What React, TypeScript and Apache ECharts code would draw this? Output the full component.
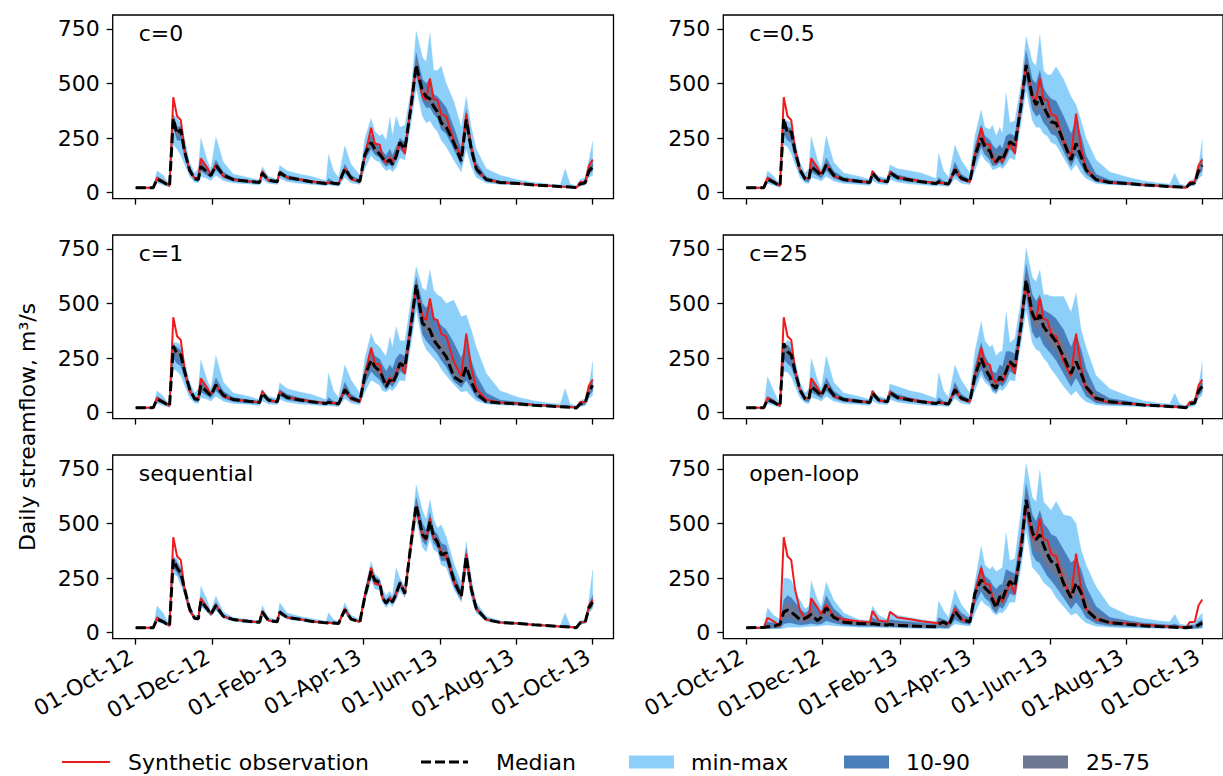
import React, { useEffect, useRef } from "react";
import * as echarts from "echarts";

// ---------- data ----------
// day offsets from 01-Oct-2012
const days = [
  0, 14, 17, 22, 27, 30, 33, 36, 39, 43,
  47, 50, 52, 57, 60, 64, 70, 78, 90, 99,
  101, 106, 113, 115, 121, 131, 140, 152, 154, 158,
  162, 167, 172, 179, 183, 188, 191, 195, 197, 200,
  203, 205, 208, 211, 215, 220, 224, 229, 232, 235,
  238, 241, 244, 248, 254, 260, 264, 268, 272, 280,
  291, 306, 318, 330, 339, 343, 347, 352, 355, 359,
  362, 365,
];
const tickDays = [0, 61, 123, 182, 243, 304, 365];
const tickLabels = ["01-Oct-12", "01-Dec-12", "01-Feb-13", "01-Apr-13", "01-Jun-13", "01-Aug-13", "01-Oct-13"];
const yTicks = [0, 250, 500, 750];
const panelTitles = ["c=0", "c=0.5", "c=1", "c=25", "sequential", "open-loop"];
const legendNames = ["Synthetic observation", "Median", "min-max", "10-90", "25-75"];

const obs = [
  23, 23, 68, 52, 31, 437, 350, 333, 200, 100,
  68, 66, 157, 115, 85, 128, 75, 60, 52, 48,
  99, 56, 50, 96, 70, 62, 52, 45, 46, 44,
  42, 110, 62, 50, 170, 298, 225, 220, 160, 137,
  160, 140, 180, 228, 178, 420, 580, 440, 425, 524,
  428, 425, 360, 350, 235, 167, 362, 205, 110, 60,
  47, 42, 36, 32, 28, 27, 26, 23, 49, 50,
  125, 152,
];

// c=0
const c0Med = [
  23, 23, 62, 48, 31, 340, 270, 290, 190, 105,
  64, 60, 120, 95, 78, 125, 80, 60, 52, 47,
  90, 58, 50, 92, 70, 60, 50, 42, 48, 43,
  40, 110, 68, 52, 175, 230, 200, 175, 160, 140,
  150, 130, 165, 230, 200, 400, 585, 465, 440, 430,
  395, 370, 320, 300, 230, 145, 335, 200, 110, 60,
  47, 42, 35, 32, 28, 27, 26, 23, 40, 45,
  100, 118,
];
const c0Max = [
  26, 26, 100, 80, 35, 360, 340, 320, 250, 140,
  90, 110, 250, 150, 110, 255, 140, 85, 70, 58,
  120, 75, 62, 125, 100, 85, 75, 55, 175, 100,
  70, 215, 130, 80, 250, 340, 280, 260, 270, 240,
  345, 260, 350, 300, 310, 470, 740, 620, 600, 730,
  560, 560, 580, 500, 420, 300, 440, 300, 200, 110,
  80, 58, 48, 40, 35, 110, 40, 32, 60, 70,
  150, 235,
];
const c0Min = [
  20, 20, 45, 35, 25, 220, 200, 170, 130, 75,
  48, 45, 75, 65, 55, 80, 55, 45, 40, 35,
  60, 42, 38, 65, 50, 42, 38, 32, 35, 32,
  30, 70, 45, 38, 110, 170, 150, 140, 120, 100,
  110, 95, 115, 160, 150, 320, 480, 350, 320, 330,
  300, 280, 240, 210, 150, 95, 200, 120, 70, 45,
  38, 35, 30, 27, 24, 23, 22, 20, 30, 35,
  70, 80,
];
const c0P90 = [
  24, 24, 75, 58, 33, 355, 300, 305, 210, 115,
  72, 68, 150, 110, 88, 150, 95, 68, 58, 52,
  100, 64, 55, 102, 80, 66, 56, 46, 65, 50,
  45, 130, 80, 58, 200, 270, 230, 210, 190, 170,
  200, 170, 210, 250, 230, 430, 640, 520, 500, 520,
  450, 440, 420, 390, 300, 200, 380, 240, 140, 72,
  54, 46, 38, 34, 30, 30, 28, 25, 46, 52,
  120, 150,
];
const c0P10 = [
  22, 22, 55, 42, 28, 300, 240, 240, 165, 90,
  56, 52, 100, 80, 68, 105, 68, 52, 46, 42,
  78, 50, 45, 80, 60, 52, 45, 38, 40, 38,
  36, 90, 58, 45, 150, 200, 175, 160, 140, 120,
  130, 115, 145, 200, 175, 370, 540, 420, 390, 390,
  360, 340, 290, 270, 200, 125, 290, 170, 90, 52,
  42, 38, 33, 30, 26, 25, 24, 21, 35, 40,
  85, 100,
];
const c0P75 = [
  23, 23, 68, 52, 32, 350, 285, 298, 200, 110,
  68, 64, 135, 100, 82, 135, 85, 64, 55, 50,
  95, 60, 52, 96, 74, 63, 53, 44, 55, 46,
  42, 118, 72, 54, 185, 250, 215, 190, 175, 155,
  175, 150, 185, 240, 215, 415, 610, 490, 470, 470,
  420, 400, 370, 340, 260, 170, 355, 220, 125, 66,
  50, 44, 36, 33, 29, 28, 27, 24, 43, 48,
  110, 132,
];
const c0P25 = [
  22, 22, 58, 45, 30, 320, 255, 265, 178, 98,
  60, 56, 110, 88, 72, 115, 73, 56, 49, 45,
  84, 54, 48, 86, 65, 56, 47, 40, 44, 40,
  38, 100, 63, 48, 162, 215, 188, 168, 150, 130,
  140, 122, 155, 215, 188, 385, 565, 445, 415, 410,
  375, 355, 305, 285, 215, 135, 315, 185, 100, 56,
  44, 40, 34, 31, 27, 26, 25, 22, 37, 42,
  92, 110,
];

// c=0.5
const c05Med = [
  23, 23, 62, 48, 31, 340, 272, 280, 190, 105,
  64, 60, 119, 95, 78, 127, 80, 60, 52, 47,
  90, 58, 50, 92, 70, 58, 50, 42, 50, 43,
  40, 105, 68, 50, 170, 249, 211, 190, 160, 142,
  165, 150, 190, 234, 218, 400, 585, 440, 402, 440,
  394, 360, 325, 318, 234, 150, 226, 165, 104, 60,
  47, 42, 35, 32, 28, 27, 26, 23, 40, 45,
  100, 125,
];
const c05Max = [
  26, 26, 100, 75, 35, 330, 330, 320, 240, 140,
  90, 110, 257, 150, 110, 260, 140, 90, 75, 60,
  104, 75, 65, 127, 110, 100, 90, 65, 180, 100,
  70, 218, 150, 90, 260, 379, 300, 290, 310, 260,
  300, 270, 455, 320, 330, 500, 715, 600, 580, 722,
  560, 540, 540, 577, 520, 440, 402, 330, 250, 150,
  95, 70, 55, 45, 40, 89, 40, 33, 55, 65,
  120, 241,
];
const c05Min = [
  20, 20, 42, 33, 24, 220, 210, 180, 130, 70,
  45, 42, 70, 62, 52, 75, 52, 42, 38, 33,
  55, 40, 36, 60, 48, 40, 36, 30, 33, 30,
  28, 65, 43, 36, 100, 180, 150, 130, 105, 110,
  120, 110, 130, 160, 150, 320, 470, 330, 300, 300,
  270, 260, 230, 220, 160, 100, 130, 90, 65, 42,
  36, 33, 28, 26, 23, 22, 21, 19, 28, 32,
  65, 80,
];
const c05P90 = [
  24, 24, 75, 58, 33, 330, 300, 295, 210, 118,
  74, 70, 160, 112, 90, 160, 98, 70, 60, 53,
  102, 66, 56, 104, 82, 68, 58, 47, 70, 52,
  46, 140, 85, 60, 210, 310, 260, 240, 220, 200,
  220, 200, 260, 270, 260, 450, 650, 520, 500, 560,
  480, 450, 430, 420, 350, 270, 330, 260, 170, 85,
  58, 48, 40, 35, 31, 35, 29, 26, 45, 52,
  115, 160,
];
const c05P10 = [
  22, 22, 52, 40, 28, 270, 240, 230, 160, 88,
  54, 50, 95, 78, 66, 100, 66, 50, 45, 40,
  75, 49, 44, 78, 58, 50, 44, 37, 40, 37,
  35, 85, 56, 44, 130, 210, 175, 150, 125, 125,
  140, 125, 160, 200, 180, 360, 520, 380, 350, 360,
  320, 300, 270, 260, 190, 120, 170, 125, 85, 50,
  40, 37, 32, 29, 26, 25, 24, 21, 34, 39,
  82, 100,
];
const c05P75 = [
  23, 23, 68, 52, 32, 345, 285, 290, 200, 110,
  68, 64, 135, 102, 83, 140, 86, 64, 55, 50,
  95, 61, 52, 96, 74, 62, 53, 44, 55, 46,
  42, 118, 74, 54, 185, 275, 235, 210, 175, 170,
  185, 170, 215, 250, 240, 420, 610, 480, 450, 480,
  430, 400, 365, 355, 270, 190, 270, 200, 130, 70,
  50, 44, 36, 33, 29, 28, 27, 24, 42, 47,
  108, 140,
];
const c05P25 = [
  22, 22, 57, 45, 30, 315, 258, 265, 178, 98,
  60, 56, 108, 88, 72, 115, 73, 56, 49, 45,
  84, 54, 48, 86, 65, 55, 47, 40, 45, 40,
  38, 95, 62, 47, 155, 225, 190, 165, 135, 135,
  150, 135, 170, 215, 200, 380, 560, 410, 370, 400,
  360, 330, 290, 285, 205, 130, 195, 145, 95, 54,
  43, 40, 34, 31, 27, 26, 25, 22, 37, 42,
  90, 112,
];

// c=1
const c1Med = [
  23, 23, 62, 48, 31, 305, 270, 265, 190, 110,
  64, 60, 125, 95, 78, 127, 80, 60, 52, 47,
  90, 58, 50, 92, 70, 58, 50, 42, 48, 43,
  40, 105, 68, 52, 170, 241, 211, 190, 165, 119,
  150, 135, 170, 226, 211, 400, 585, 410, 394, 379,
  333, 310, 287, 257, 165, 142, 211, 142, 89, 50,
  45, 40, 34, 31, 27, 26, 25, 22, 40, 45,
  100, 125,
];
const c1Max = [
  26, 26, 100, 75, 35, 320, 320, 310, 240, 140,
  90, 110, 241, 150, 110, 260, 140, 90, 75, 60,
  107, 75, 65, 137, 110, 95, 85, 60, 180, 100,
  70, 218, 150, 90, 250, 363, 320, 300, 280, 260,
  348, 300, 394, 330, 330, 520, 669, 570, 560, 654,
  560, 540, 530, 500, 516, 440, 448, 380, 300, 180,
  100, 70, 55, 45, 40, 110, 40, 32, 55, 65,
  120, 235,
];
const c1Min = [
  20, 20, 42, 33, 24, 200, 190, 170, 125, 70,
  45, 42, 70, 62, 52, 75, 52, 42, 38, 33,
  55, 40, 36, 60, 48, 40, 36, 30, 33, 30,
  28, 65, 43, 36, 95, 150, 140, 125, 100, 95,
  110, 100, 120, 150, 145, 320, 470, 330, 290, 270,
  250, 230, 200, 170, 130, 95, 100, 75, 55, 40,
  35, 32, 28, 26, 23, 22, 21, 19, 28, 32,
  65, 80,
];
const c1P90 = [
  24, 24, 75, 58, 33, 310, 300, 285, 210, 120,
  74, 70, 160, 112, 90, 160, 98, 70, 60, 53,
  102, 66, 56, 106, 84, 68, 58, 47, 70, 52,
  46, 140, 85, 60, 200, 300, 260, 245, 220, 190,
  220, 200, 250, 270, 260, 460, 620, 500, 480, 500,
  440, 420, 400, 380, 320, 250, 320, 240, 170, 90,
  58, 48, 40, 35, 31, 35, 29, 26, 45, 52,
  115, 155,
];
const c1P10 = [
  22, 22, 52, 40, 28, 250, 225, 215, 160, 90,
  54, 50, 95, 78, 66, 100, 66, 50, 45, 40,
  75, 49, 44, 78, 58, 50, 44, 37, 40, 37,
  35, 85, 56, 44, 130, 190, 170, 150, 130, 105,
  130, 118, 145, 190, 175, 360, 520, 360, 330, 310,
  290, 270, 240, 210, 145, 115, 150, 110, 70, 45,
  40, 37, 31, 28, 25, 24, 23, 20, 33, 38,
  80, 98,
];
const c1P75 = [
  23, 23, 68, 52, 32, 315, 285, 280, 200, 115,
  68, 64, 140, 102, 83, 140, 86, 64, 55, 50,
  95, 61, 52, 96, 74, 62, 53, 44, 55, 46,
  42, 118, 74, 54, 185, 265, 230, 210, 185, 140,
  175, 160, 200, 240, 230, 425, 610, 460, 430, 420,
  375, 350, 330, 300, 220, 180, 250, 175, 115, 62,
  48, 42, 35, 32, 28, 27, 26, 23, 42, 47,
  108, 138,
];
const c1P25 = [
  22, 22, 57, 45, 30, 285, 255, 250, 178, 102,
  60, 56, 110, 88, 72, 115, 73, 56, 49, 45,
  84, 54, 48, 86, 65, 55, 47, 40, 45, 40,
  38, 95, 62, 47, 155, 215, 190, 170, 150, 112,
  140, 128, 155, 210, 190, 380, 560, 400, 365, 350,
  310, 290, 260, 235, 165, 130, 180, 130, 82, 48,
  42, 38, 33, 30, 26, 25, 24, 21, 36, 41,
  90, 112,
];

// c=25
const c25Med = [
  23, 23, 60, 48, 31, 318, 280, 265, 190, 105,
  64, 60, 119, 95, 78, 127, 80, 60, 52, 47,
  90, 58, 50, 92, 70, 58, 50, 42, 48, 43,
  40, 105, 68, 52, 170, 249, 203, 165, 127, 112,
  165, 150, 190, 234, 211, 400, 608, 455, 417, 448,
  394, 370, 356, 325, 257, 180, 234, 180, 119, 66,
  50, 42, 35, 32, 28, 27, 26, 23, 40, 45,
  100, 120,
];
const c25Max = [
  26, 26, 165, 100, 35, 300, 333, 320, 240, 140,
  90, 110, 249, 150, 110, 260, 140, 90, 75, 60,
  104, 75, 65, 131, 120, 100, 90, 65, 183, 100,
  70, 218, 150, 90, 280, 417, 330, 300, 310, 260,
  280, 280, 463, 320, 340, 520, 753, 620, 600, 654,
  540, 540, 532, 532, 532, 460, 547, 380, 300, 170,
  110, 75, 55, 45, 40, 89, 40, 33, 55, 65,
  120, 230,
];
const c25Min = [
  20, 20, 42, 33, 24, 190, 185, 165, 120, 68,
  45, 42, 70, 62, 52, 75, 52, 42, 38, 33,
  55, 40, 36, 60, 48, 40, 36, 30, 33, 30,
  28, 65, 43, 36, 100, 170, 140, 120, 95, 85,
  110, 100, 120, 150, 145, 320, 470, 320, 290, 280,
  250, 230, 200, 170, 120, 80, 100, 70, 50, 35,
  32, 30, 27, 25, 22, 21, 20, 18, 27, 31,
  65, 80,
];
const c25P90 = [
  24, 24, 75, 60, 33, 300, 310, 290, 210, 118,
  74, 70, 155, 112, 90, 160, 98, 70, 60, 53,
  102, 66, 56, 104, 84, 68, 58, 47, 70, 52,
  46, 140, 85, 60, 210, 320, 260, 220, 190, 180,
  220, 210, 280, 280, 270, 460, 680, 540, 510, 540,
  470, 460, 450, 430, 380, 300, 360, 290, 200, 100,
  65, 52, 40, 35, 31, 35, 29, 26, 45, 52,
  115, 150,
];
const c25P10 = [
  22, 22, 50, 40, 28, 245, 225, 210, 160, 88,
  54, 50, 95, 78, 66, 100, 66, 50, 45, 40,
  75, 49, 44, 78, 58, 50, 44, 37, 40, 37,
  35, 85, 56, 44, 130, 200, 160, 135, 105, 95,
  130, 120, 145, 190, 175, 360, 540, 370, 340, 350,
  310, 290, 270, 240, 180, 120, 160, 120, 75, 45,
  38, 35, 31, 28, 25, 24, 23, 20, 33, 38,
  80, 96,
];
const c25P75 = [
  23, 23, 66, 52, 32, 318, 295, 280, 200, 110,
  68, 64, 135, 102, 83, 140, 86, 64, 55, 50,
  95, 61, 52, 96, 74, 62, 53, 44, 55, 46,
  42, 118, 74, 54, 185, 280, 230, 190, 155, 140,
  185, 175, 220, 250, 235, 430, 640, 500, 465, 490,
  430, 410, 400, 375, 310, 230, 290, 225, 150, 80,
  55, 46, 37, 33, 29, 28, 27, 24, 42, 47,
  108, 135,
];
const c25P25 = [
  22, 22, 56, 45, 30, 290, 262, 250, 178, 98,
  60, 56, 108, 88, 72, 115, 73, 56, 49, 45,
  84, 54, 48, 86, 65, 55, 47, 40, 45, 40,
  38, 95, 62, 47, 155, 225, 180, 150, 118, 105,
  148, 135, 165, 215, 190, 380, 580, 415, 380, 400,
  355, 330, 310, 280, 215, 145, 200, 145, 95, 55,
  43, 38, 33, 30, 26, 25, 24, 21, 36, 41,
  90, 108,
];

// sequential
const seqMed = [
  23, 23, 62, 50, 31, 335, 297, 274, 200, 110,
  66, 64, 145, 110, 84, 125, 75, 60, 52, 48,
  95, 56, 50, 94, 70, 62, 52, 45, 46, 44,
  42, 105, 62, 50, 165, 281, 240, 230, 160, 135,
  160, 140, 178, 228, 180, 415, 586, 450, 430, 510,
  440, 415, 357, 365, 240, 165, 350, 200, 110, 60,
  47, 42, 36, 32, 28, 27, 26, 23, 45, 48,
  115, 140,
];
const seqMax = [
  26, 26, 122, 90, 35, 350, 340, 300, 220, 130,
  80, 80, 213, 150, 100, 167, 95, 70, 60, 55,
  125, 70, 58, 137, 90, 75, 65, 52, 91, 60,
  50, 137, 80, 60, 200, 327, 270, 250, 200, 170,
  190, 170, 297, 250, 210, 450, 677, 560, 520, 609,
  520, 480, 494, 440, 320, 230, 418, 250, 140, 75,
  55, 48, 40, 36, 32, 91, 32, 28, 55, 60,
  150, 289,
];
const seqMin = [
  21, 21, 50, 40, 27, 270, 260, 220, 170, 90,
  58, 56, 120, 95, 75, 100, 65, 52, 45, 42,
  80, 50, 45, 80, 62, 54, 46, 40, 40, 38,
  36, 90, 55, 44, 140, 240, 200, 195, 140, 115,
  135, 120, 150, 190, 160, 360, 520, 390, 370, 430,
  380, 370, 310, 300, 200, 140, 290, 160, 90, 52,
  42, 38, 33, 29, 25, 24, 23, 20, 38, 42,
  90, 110,
];
const seqP90 = [
  24, 24, 75, 58, 33, 345, 320, 290, 212, 120,
  72, 70, 165, 120, 90, 140, 82, 64, 56, 51,
  105, 60, 53, 105, 76, 66, 55, 47, 52, 47,
  44, 118, 68, 54, 180, 300, 255, 240, 175, 150,
  172, 155, 200, 240, 195, 430, 620, 500, 470, 550,
  470, 450, 410, 400, 275, 190, 385, 220, 125, 66,
  50, 45, 38, 34, 30, 34, 28, 25, 49, 53,
  130, 170,
];
const seqP10 = [
  22, 22, 56, 46, 29, 300, 275, 245, 185, 100,
  62, 60, 130, 100, 78, 110, 70, 56, 48, 45,
  85, 52, 47, 85, 65, 58, 49, 42, 43, 41,
  39, 95, 58, 47, 150, 255, 220, 210, 150, 125,
  148, 130, 165, 210, 170, 390, 555, 420, 400, 470,
  410, 390, 330, 330, 215, 150, 320, 180, 98, 56,
  44, 40, 34, 30, 26, 25, 24, 21, 40, 44,
  100, 120,
];
const seqP75 = [
  23, 23, 68, 54, 32, 340, 305, 282, 205, 115,
  68, 66, 152, 114, 86, 130, 78, 62, 54, 49,
  98, 58, 51, 98, 72, 64, 53, 46, 48, 45,
  43, 110, 64, 52, 172, 290, 247, 235, 165, 140,
  165, 145, 188, 234, 187, 422, 600, 470, 445, 525,
  452, 428, 375, 380, 255, 175, 362, 208, 115, 62,
  48, 43, 37, 33, 29, 28, 27, 24, 46, 50,
  120, 150,
];
const seqP25 = [
  22, 22, 58, 48, 30, 320, 288, 265, 195, 106,
  64, 62, 138, 105, 81, 118, 72, 58, 50, 46,
  90, 54, 48, 90, 68, 60, 51, 43, 45, 43,
  41, 100, 60, 49, 158, 268, 232, 220, 155, 130,
  155, 135, 170, 220, 175, 405, 570, 435, 415, 490,
  425, 405, 345, 350, 228, 158, 338, 190, 104, 58,
  46, 41, 35, 31, 27, 26, 25, 22, 43, 46,
  108, 130,
];

// open-loop
const olMed = [
  23, 24, 27, 28, 40, 95, 103, 95, 80, 60,
  65, 76, 84, 55, 70, 114, 70, 48, 42, 40,
  42, 38, 35, 38, 33, 31, 29, 27, 40, 50,
  33, 99, 62, 49, 180, 243, 205, 183, 150, 114,
  167, 152, 200, 236, 213, 380, 608, 460, 426, 449,
  400, 360, 327, 319, 225, 160, 228, 183, 106, 65,
  46, 38, 32, 28, 26, 25, 24, 23, 25, 27,
  35, 45,
];
const olMax = [
  25, 25, 114, 80, 60, 250, 250, 240, 190, 150,
  110, 120, 236, 150, 120, 231, 150, 90, 60, 55,
  122, 80, 60, 100, 80, 70, 60, 50, 145, 100,
  70, 198, 130, 80, 230, 396, 310, 290, 304, 280,
  290, 300, 456, 330, 340, 560, 776, 620, 600, 745,
  600, 580, 560, 601, 540, 532, 500, 380, 310, 210,
  120, 80, 65, 55, 50, 84, 40, 35, 45, 50,
  70, 90,
];
const olMin = [
  18, 18, 18, 18, 18, 20, 25, 25, 25, 25,
  27, 28, 30, 30, 32, 35, 32, 28, 25, 25,
  25, 24, 23, 23, 22, 20, 19, 18, 19, 18,
  18, 40, 35, 30, 90, 150, 130, 115, 95, 80,
  95, 90, 110, 140, 140, 300, 470, 300, 280, 260,
  230, 215, 200, 160, 120, 80, 90, 65, 45, 30,
  25, 22, 20, 20, 19, 19, 18, 17, 17, 17,
  18, 20,
];
const olP90 = [
  22, 22, 50, 45, 45, 150, 170, 160, 140, 110,
  90, 100, 160, 110, 95, 170, 110, 70, 50, 48,
  70, 55, 48, 60, 55, 50, 45, 40, 70, 60,
  50, 130, 90, 65, 210, 310, 260, 240, 220, 200,
  220, 220, 290, 280, 270, 460, 680, 540, 510, 560,
  500, 480, 450, 440, 380, 320, 340, 290, 210, 120,
  70, 55, 45, 40, 35, 40, 32, 28, 32, 35,
  50, 60,
];
const olP10 = [
  20, 20, 20, 20, 22, 40, 45, 45, 40, 35,
  38, 40, 42, 38, 40, 55, 45, 35, 30, 30,
  30, 28, 27, 28, 26, 24, 23, 22, 24, 22,
  22, 60, 45, 38, 130, 190, 160, 140, 110, 90,
  120, 110, 140, 180, 170, 340, 540, 360, 330, 320,
  290, 260, 240, 210, 160, 110, 140, 110, 70, 42,
  32, 28, 25, 23, 22, 21, 21, 20, 20, 20,
  22, 25,
];
const olP75 = [
  23, 23, 35, 32, 34, 125, 140, 130, 110, 85,
  80, 90, 120, 80, 85, 140, 90, 58, 48, 45,
  55, 46, 42, 48, 45, 40, 37, 34, 55, 55,
  42, 115, 78, 58, 195, 275, 230, 210, 185, 160,
  195, 180, 235, 260, 245, 430, 640, 500, 470, 500,
  450, 420, 390, 380, 300, 240, 280, 230, 160, 90,
  58, 48, 40, 35, 31, 32, 28, 26, 28, 30,
  42, 52,
];
const olP25 = [
  21, 21, 23, 23, 28, 65, 70, 68, 60, 48,
  50, 55, 60, 48, 52, 80, 55, 42, 36, 35,
  35, 32, 30, 32, 30, 28, 26, 25, 30, 28,
  26, 80, 52, 43, 160, 215, 180, 160, 130, 100,
  140, 130, 165, 210, 190, 360, 570, 400, 370, 370,
  330, 300, 280, 260, 190, 130, 180, 145, 90, 52,
  38, 33, 29, 27, 25, 24, 23, 22, 23, 24,
  30, 38,
];

// ---------- styling / layout ----------
const FONT = "DejaVu Sans";
const RED = "#ee1c1c";
const C_MINMAX = "#8ccff9";
const C_1090 = "#4a7fbb";
const C_2575 = "#6e7791";

const colLeft = [112.7, 723.3];
const colWidth = [500.8, 507.6];
const rowTop = [15, 235, 455];
const rowHeight = 183.6;
const X_MIN = -18.4;
const X_MAX = 381.6;
const Y_MIN = -27;
const Y_MAX = 814;

type Panel = {
  med: number[]; min: number[]; max: number[];
  p10: number[]; p90: number[]; p25: number[]; p75: number[];
};

const panels: Panel[] = [
  { med: c0Med, min: c0Min, max: c0Max, p10: c0P10, p90: c0P90, p25: c0P25, p75: c0P75 },
  { med: c05Med, min: c05Min, max: c05Max, p10: c05P10, p90: c05P90, p25: c05P25, p75: c05P75 },
  { med: c1Med, min: c1Min, max: c1Max, p10: c1P10, p90: c1P90, p25: c1P25, p75: c1P75 },
  { med: c25Med, min: c25Min, max: c25Max, p10: c25P10, p90: c25P90, p25: c25P25, p75: c25P75 },
  { med: seqMed, min: seqMin, max: seqMax, p10: seqP10, p90: seqP90, p25: seqP25, p75: seqP75 },
  { med: olMed, min: olMin, max: olMax, p10: olP10, p90: olP90, p25: olP25, p75: olP75 },
];

// band between lo and hi drawn as one polygon through the axis scales
function bandSeries(i: number, name: string, lo: number[], hi: number[], color: string) {
  return {
    type: "custom", name, xAxisIndex: i, yAxisIndex: i, silent: true,
    data: days.map((d, k) => [d, lo[k], hi[k]]),
    encode: { x: 0, y: [1, 2] },
    renderItem: (params: any, api: any) => {
      if (params.dataIndexInside !== 0) return null;
      const n = params.dataInsideLength;
      const upper: number[][] = [];
      const lower: number[][] = [];
      for (let j = 0; j < n; j++) {
        const x = api.value(0, j);
        upper.push(api.coord([x, api.value(2, j)]));
        lower.push(api.coord([x, api.value(1, j)]));
      }
      return {
        type: "polygon",
        shape: { points: upper.concat(lower.reverse()) },
        style: { fill: color, stroke: color, lineWidth: 0.3 },
      };
    },
  };
}

function buildOption() {
  const grids: any[] = [];
  const xAxes: any[] = [];
  const yAxes: any[] = [];
  const titles: any[] = [];
  const series: any[] = [];
  const tickLine = { color: "#000", width: 1.3 };

  panels.forEach((p, i) => {
    const row = Math.floor(i / 2);
    const col = i % 2;
    grids.push({
      left: colLeft[col], top: rowTop[row], width: colWidth[col], height: rowHeight,
      show: true, borderColor: "#000", borderWidth: 1.3, backgroundColor: "transparent",
    });
    xAxes.push({
      type: "value", gridIndex: i, min: X_MIN, max: X_MAX,
      axisLine: { show: false, onZero: false },
      splitLine: { show: false },
      axisTick: { show: true, length: 6, lineStyle: tickLine, customValues: tickDays },
      axisLabel: {
        show: row === 2, customValues: tickDays, rotate: 30, margin: 14,
        fontSize: 22, fontFamily: FONT, color: "#000", padding: [0, 5, 0, 0],
        formatter: (v: number) => {
          const k = tickDays.indexOf(Math.round(v));
          return k >= 0 ? tickLabels[k] : "";
        },
      },
    });
    yAxes.push({
      type: "value", gridIndex: i, min: Y_MIN, max: Y_MAX,
      axisLine: { show: false, onZero: false },
      splitLine: { show: false },
      axisTick: { show: true, length: 6, lineStyle: tickLine, customValues: yTicks },
      axisLabel: {
        customValues: yTicks, margin: 13, fontSize: 22, fontFamily: FONT, color: "#000",
      },
    });
    titles.push({
      text: panelTitles[i], left: colLeft[col] + 26, top: rowTop[row] + 7, padding: 0,
      textStyle: { fontSize: 22, fontWeight: "normal", color: "#000", fontFamily: FONT },
    });
    series.push(bandSeries(i, legendNames[2], p.min, p.max, C_MINMAX));
    series.push(bandSeries(i, legendNames[3], p.p10, p.p90, C_1090));
    series.push(bandSeries(i, legendNames[4], p.p25, p.p75, C_2575));
    series.push({
      type: "line", name: legendNames[0], xAxisIndex: i, yAxisIndex: i,
      data: days.map((d, k) => [d, obs[k]]), symbol: "none", silent: true,
      lineStyle: { color: RED, width: 2 },
    });
    series.push({
      type: "line", name: legendNames[1], xAxisIndex: i, yAxisIndex: i,
      data: days.map((d, k) => [d, p.med[k]]), symbol: "none", silent: true,
      lineStyle: { color: "#000", width: 3, type: [10, 4] },
    });
  });

  const legendY = 762;
  const txt = (x: number, text: string) => ({
    type: "text", x, y: legendY,
    style: { text, fontSize: 22, fontFamily: FONT, fill: "#000", align: "left", verticalAlign: "middle" },
  });
  const patch = (x: number, fill: string) => ({
    type: "rect", shape: { x, y: 755.5, width: 45, height: 13 }, style: { fill },
  });

  const graphic: any[] = [
    {
      type: "text", x: 27, y: 427, rotation: Math.PI / 2,
      style: {
        text: "Daily streamflow, m³/s", fontSize: 22, fontFamily: FONT, fill: "#000",
        align: "center", verticalAlign: "middle",
      },
    },
    { type: "line", shape: { x1: 62, y1: legendY, x2: 110, y2: legendY }, style: { stroke: RED, lineWidth: 2 } },
    txt(128, legendNames[0]),
    { type: "line", shape: { x1: 421, y1: legendY, x2: 468, y2: legendY }, style: { stroke: "#000", lineWidth: 3, lineDash: [10, 4] } },
    txt(496, legendNames[1]),
    patch(629, C_MINMAX),
    txt(691, legendNames[2]),
    patch(844, C_1090),
    txt(906, legendNames[3]),
    patch(1023, C_2575),
    txt(1086, legendNames[4]),
  ];

  return {
    animation: false,
    backgroundColor: "#fff",
    textStyle: { fontFamily: FONT },
    title: titles,
    grid: grids,
    xAxis: xAxes,
    yAxis: yAxes,
    series,
    graphic,
  };
}

export default function App() {
  const ref = useRef<HTMLDivElement>(null);
  useEffect(() => {
    const chart = echarts.init(ref.current as HTMLDivElement, undefined, { renderer: "svg" });
    chart.setOption(buildOption() as any);
    return () => chart.dispose();
  }, []);
  return (
    <div
      ref={ref}
      style={{ position: "absolute", left: 0, top: 0, width: 1223, height: 776, background: "#fff" }}
    />
  );
}
